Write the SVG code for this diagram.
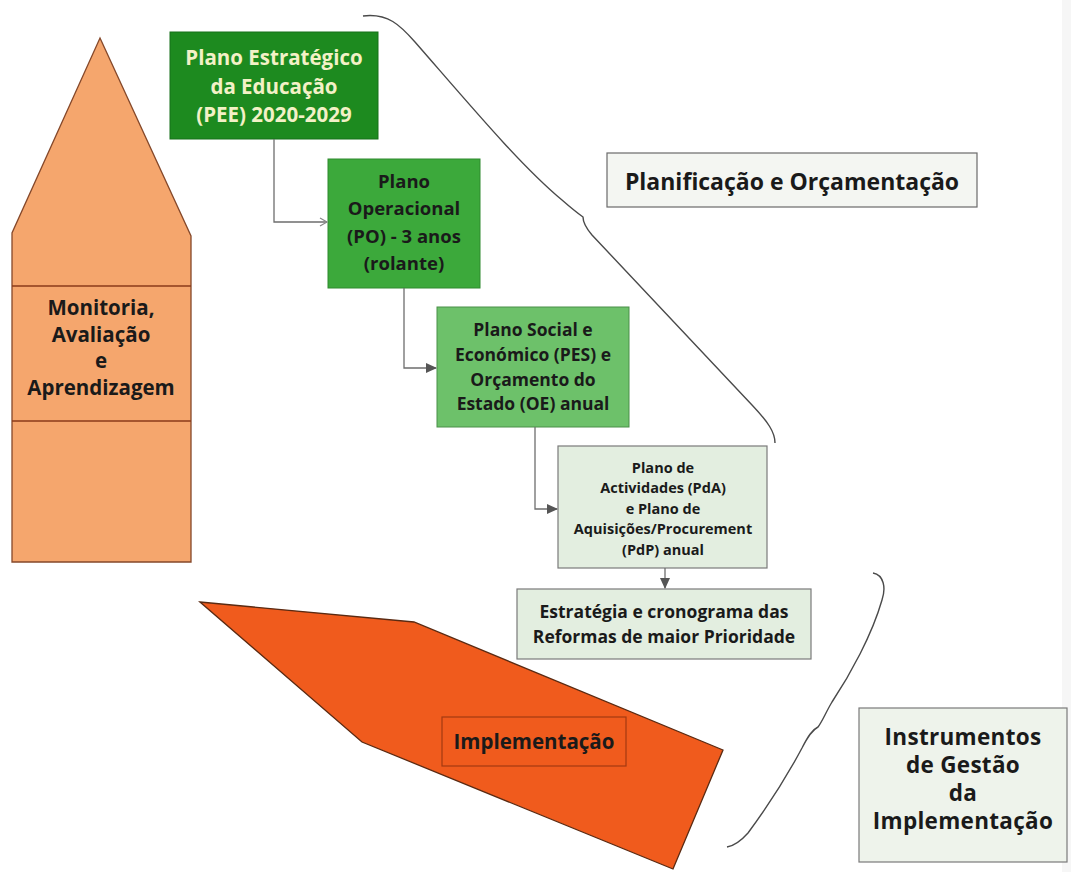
<svg xmlns="http://www.w3.org/2000/svg" width="1071" height="872" viewBox="0 0 1071 872">
<style>
text{font-family:"Open Sans","Liberation Sans",sans-serif;font-weight:700;text-anchor:middle;fill:#1a1a1a}
.light{fill:#f3f1c6}
.conn{fill:none;stroke:#6e6e6e;stroke-width:1.3}
.brace{fill:none;stroke:#4a4a4a;stroke-width:1.4}
.pale{fill:#e3eee0;stroke:#7a7a7a;stroke-width:1.2}
</style>
<defs>
<marker id="open" markerWidth="10" markerHeight="10" refX="8" refY="5" orient="auto" markerUnits="userSpaceOnUse"><path d="M1,1 L8,5 L1,9" fill="none" stroke="#888" stroke-width="1.2"/></marker>
<marker id="fill" markerWidth="12" markerHeight="12" refX="10" refY="6" orient="auto" markerUnits="userSpaceOnUse"><path d="M0,1 L11,6 L0,11 Z" fill="#555"/></marker>
</defs>
<rect width="1071" height="872" fill="#ffffff"/>
<rect x="1062" y="0" width="9" height="872" fill="#f6f6f6"/>

<g id="monitoria">
<path d="M100,38 L191,236 L191,562 L12,562 L12,233 Z" fill="#f5a66d" stroke="#85482a" stroke-width="1.3"/>
<line x1="12" y1="286" x2="191" y2="286" stroke="#8a3a1a" stroke-width="1.5"/>
<line x1="12" y1="421" x2="191" y2="421" stroke="#8a3a1a" stroke-width="1.5"/>
<text font-size="20.5"><tspan x="101" y="315">Monitoria,</tspan><tspan x="101" y="342">Avaliação</tspan><tspan x="101" y="368">e</tspan><tspan x="101" y="395">Aprendizagem</tspan></text>
</g>

<g id="implementacao">
<path d="M200,602 L414,622 L723,750 L673,869 L362,742 Z" fill="#f05b1d" stroke="#5a2a12" stroke-width="1.3"/>
<rect x="442" y="717" width="184" height="49" fill="none" stroke="#a33a12" stroke-width="1.2"/>
<text x="534" y="749" font-size="20.5">Implementação</text>
</g>

<g id="pee">
<rect x="170" y="32" width="208" height="107" fill="#1d8a1f" stroke="#17701a" stroke-width="1"/>
<text font-size="20.5" class="light"><tspan x="274" y="65">Plano Estratégico</tspan><tspan x="274" y="94">da Educação</tspan><tspan x="274" y="122">(PEE) 2020-2029</tspan></text>
</g>

<g id="po">
<rect x="328" y="159" width="152" height="129" fill="#3ca93b" stroke="#2f8a2f" stroke-width="1"/>
<text font-size="18.5"><tspan x="404" y="188">Plano</tspan><tspan x="404" y="215">Operacional</tspan><tspan x="404" y="243">(PO) - 3 anos</tspan><tspan x="404" y="270">(rolante)</tspan></text>
</g>

<g id="pes">
<rect x="437" y="307" width="192" height="120" fill="#6dc16a" stroke="#4a8f48" stroke-width="1"/>
<text font-size="17.5"><tspan x="533" y="336">Plano Social e</tspan><tspan x="533" y="361">Económico (PES) e</tspan><tspan x="533" y="386">Orçamento do</tspan><tspan x="533" y="410">Estado (OE) anual</tspan></text>
</g>

<g id="pda">
<rect x="558" y="446" width="209" height="122" class="pale"/>
<text font-size="14.5"><tspan x="663" y="473">Plano de</tspan><tspan x="663" y="493">Actividades (PdA)</tspan><tspan x="663" y="514">e Plano de</tspan><tspan x="663" y="534">Aquisições/Procurement</tspan><tspan x="663" y="555">(PdP) anual</tspan></text>
</g>

<g id="reformas">
<rect x="517" y="589" width="294" height="70" class="pale"/>
<text font-size="17.5"><tspan x="664" y="618">Estratégia e cronograma das</tspan><tspan x="664" y="643">Reformas de maior Prioridade</tspan></text>
</g>

<g id="planificacao">
<rect x="607" y="153" width="370" height="54" fill="#f4f6f2" stroke="#6a6a6a" stroke-width="1.2"/>
<text x="792" y="190" font-size="23">Planificação e Orçamentação</text>
</g>

<g id="instrumentos">
<rect x="859" y="708" width="208" height="154" fill="#eef3eb" stroke="#7a7a7a" stroke-width="1.2"/>
<text font-size="22.5" letter-spacing="0.3"><tspan x="963" y="745">Instrumentos</tspan><tspan x="963" y="773">de Gestão</tspan><tspan x="963" y="801">da</tspan><tspan x="963" y="829">Implementação</tspan></text>
</g>

<g id="connectors">
<path d="M274,139 L274,222 L327,222" class="conn" stroke="#8a8a8a" marker-end="url(#open)"/>
<path d="M404,288 L404,368 L436,368" class="conn" marker-end="url(#fill)"/>
<path d="M535,427 L535,509 L557,509" class="conn" marker-end="url(#fill)"/>
<path d="M665,568 L665,588" class="conn" marker-end="url(#fill)"/>
</g>

<g id="braces">
<path d="M363,16 C388,13 400,25 415,42 C470,105 520,165 562,200 C570,207 576,212 583,217 C583,222 586,228 592,235 L752,405 C768,422 775,432 775,443" class="brace"/>
<path d="M873,573 C884,575 886,588 882,600 C872,635 850,675 832,702 C826,712 822,722 818,727 C812,730 808,736 802,748 C785,780 765,810 748,833 C740,842 733,846 727,847" class="brace"/>
</g>
</svg>
